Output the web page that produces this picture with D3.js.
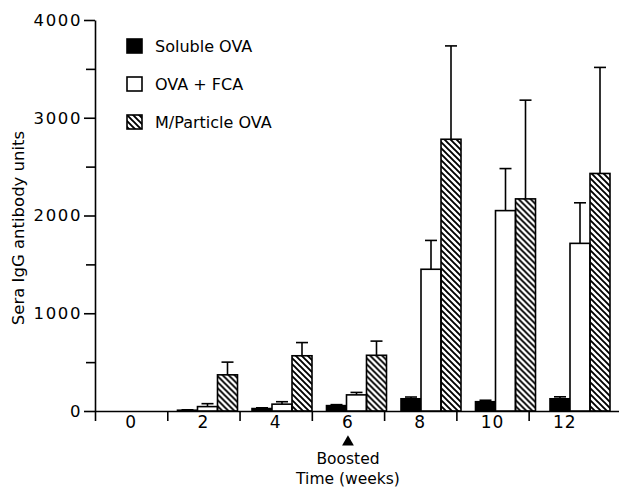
<!DOCTYPE html>
<html>
<head>
<meta charset="utf-8">
<script src="https://cdn.jsdelivr.net/npm/d3@7"></script>
<style>
  body { margin: 0; background: #fff; }
  svg { display: block; font-family: 'DejaVu Sans', sans-serif; }
</style>
</head>
<body>
<svg id="chart" width="619" height="488"></svg>
<script>
// weeks sampled, and the three immunisation groups
const weeks = [0, 2, 4, 6, 8, 10, 12]
const series = ['soluble', 'fca', 'particle']
const seriesLabels = ['Soluble OVA', 'OVA + FCA', 'M/Particle OVA']

// mean sera IgG antibody units and upper error (SEM) per week
const solubleMean = [0, 8, 25, 55, 125, 95, 125]
const solubleErr = [0, 4, 8, 10, 18, 15, 20]
const fcaMean = [0, 45, 70, 165, 1450, 2050, 1715]
const fcaErr = [0, 30, 25, 25, 295, 430, 415]
const particleMean = [0, 370, 565, 570, 2780, 2170, 2430]
const particleErr = [0, 130, 135, 145, 955, 1010, 1085]

const yMajor = [0, 1000, 2000, 3000, 4000]
const yMinor = [500, 1500, 2500, 3500]

const means = { soluble: solubleMean, fca: fcaMean, particle: particleMean }
const errs = { soluble: solubleErr, fca: fcaErr, particle: particleErr }

const svg = d3.select('#chart')

// hatch pattern for the particle group
const defs = svg.append('defs')
defs.append('pattern')
  .attr('id', 'hatch')
  .attr('patternUnits', 'userSpaceOnUse')
  .attr('width', 6)
  .attr('height', 6)
  .append('path')
  .attr('d', 'M-1,-1L7,7M-4,2L1,7M5,-1L10,4')
  .attr('stroke', '#000')
  .attr('stroke-width', 1.9)

const fills = { soluble: '#000', fca: '#fff', particle: 'url(#hatch)' }

const y = d3.scaleLinear().domain([0, 4000]).range([411, 20])
// axis ticks sit between the sampled weeks
const x = d3.scaleLinear().domain([-1, 13.5]).range([95, 619])
// bar groups drift slightly right in the original drawing
const xGroup = d3.scaleLinear().domain([0, 12]).range([133, 580])
const xSub = d3.scaleBand().domain(series).range([-30, 30])

// y axis
const yAxis = svg.append('g').attr('transform', 'translate(95,0)')
yAxis.call(d3.axisLeft(y).tickValues(yMajor).tickSize(11).tickSizeOuter(0).tickPadding(2).tickFormat(d3.format('d')))
yAxis.append('g').call(d3.axisLeft(y).tickValues(yMinor).tickSize(9).tickFormat(''))
  .select('.domain').remove()
yAxis.selectAll('text')
  .attr('font-size', 16.5)
  .attr('letter-spacing', 1.6)
  .attr('font-family', "'DejaVu Sans', sans-serif")
  .attr('fill', '#000')
yAxis.selectAll('line, path').attr('stroke', '#000').attr('stroke-width', 1.6)

// x axis
const xAxis = svg.append('g').attr('transform', 'translate(0,' + y(0) + ')')
xAxis.call(d3.axisBottom(x).tickValues([-1, 1, 3, 5, 7, 9, 11]).tickSize(10).tickSizeOuter(0).tickFormat(''))
xAxis.selectAll('line, path').attr('stroke', '#000').attr('stroke-width', 1.6)

svg.append('g')
  .selectAll('text')
  .data(weeks)
  .join('text')
  .attr('x', (d) => x(d))
  .attr('y', 428)
  .attr('text-anchor', 'middle')
  .attr('font-size', 17)
  .attr('letter-spacing', 1)
  .text((d) => d)

// bars
const groups = svg.append('g')
  .selectAll('g')
  .data(weeks)
  .join('g')
  .attr('transform', (d) => 'translate(' + xGroup(d) + ',0)')

groups.selectAll('rect')
  .data((d, i) => series.map((s) => ({ s, v: means[s][i], e: errs[s][i] })))
  .join('rect')
  .attr('x', (d) => xSub(d.s))
  .attr('width', xSub.bandwidth())
  .attr('y', (d) => y(d.v))
  .attr('height', (d) => y(0) - y(d.v))
  .attr('fill', (d) => fills[d.s])
  .attr('stroke', '#000')
  .attr('stroke-width', 1.6)

// error bars (upper only)
const err = groups.selectAll('g.err')
  .data((d, i) => series.map((s) => ({ s, v: means[s][i], e: errs[s][i] })).filter((d) => d.e > 0))
  .join('g')
  .attr('class', 'err')
  .attr('stroke', '#000')
  .attr('stroke-width', 1.6)

err.append('line')
  .attr('x1', (d) => xSub(d.s) + xSub.bandwidth() / 2)
  .attr('x2', (d) => xSub(d.s) + xSub.bandwidth() / 2)
  .attr('y1', (d) => y(d.v))
  .attr('y2', (d) => y(d.v + d.e))
err.append('line')
  .attr('x1', (d) => xSub(d.s) + xSub.bandwidth() / 2 - 6)
  .attr('x2', (d) => xSub(d.s) + xSub.bandwidth() / 2 + 6)
  .attr('y1', (d) => y(d.v + d.e))
  .attr('y2', (d) => y(d.v + d.e))

// y label
svg.append('text')
  .attr('transform', 'translate(24,228) rotate(-90)')
  .attr('text-anchor', 'middle')
  .attr('font-size', 16.5)
  .text('Sera IgG antibody units')

// boosted marker and x title
svg.append('path')
  .attr('d', d3.symbol(d3.symbolTriangle, 60)())
  .attr('transform', 'translate(' + x(6) + ',442)')
  .attr('fill', '#000')
svg.append('text')
  .attr('x', x(6))
  .attr('y', 464)
  .attr('text-anchor', 'middle')
  .attr('font-size', 15.5)
  .text('Boosted')
svg.append('text')
  .attr('x', x(6))
  .attr('y', 484)
  .attr('text-anchor', 'middle')
  .attr('font-size', 15.5)
  .text('Time (weeks)')

// legend
const legend = svg.append('g')
  .selectAll('g')
  .data(series)
  .join('g')
  .attr('transform', (d, i) => 'translate(127,' + [39, 77, 115][i] + ')')
legend.append('rect')
  .attr('width', 15)
  .attr('height', 14)
  .attr('fill', (d) => fills[d])
  .attr('stroke', '#000')
  .attr('stroke-width', 1.6)
legend.append('text')
  .attr('x', 28)
  .attr('y', 13)
  .attr('font-size', 16)
  .text((d, i) => seriesLabels[i])
</script>
</body>
</html>
